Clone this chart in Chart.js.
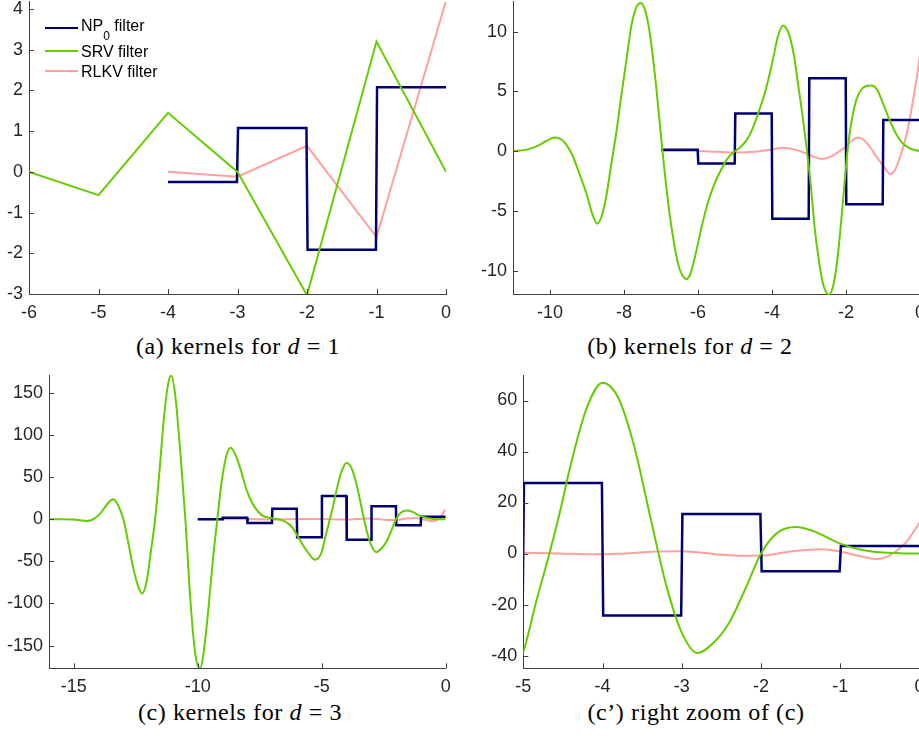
<!DOCTYPE html>
<html lang="en">
  <head>
    <meta charset="UTF-8" />
    <title>Kernels for d = 1, 2, 3</title>
    <script src="https://cdn.jsdelivr.net/npm/chart.js"></script>
    <style>
      body {
        margin: 0;
        width: 919px;
        height: 741px;
        overflow: hidden;
        background: #fff;
        position: relative;
      }

      .panel {
        position: absolute;
      }

      .cap {
        position: absolute;
        width: 400px;
        text-align: center;
        font-family: "Liberation Serif", serif;
        font-size: 24px;
        line-height: 30px;
        letter-spacing: 0.6px;
        color: #000;
        white-space: nowrap;
      }

      .legend {
        position: absolute;
        left: 0;
        top: 0;
        font-family: "Liberation Sans", Arial, sans-serif;
        font-size: 16px;
        color: #000;
      }

      .legend .swatch {
        position: absolute;
        left: 45px;
        width: 33px;
        height: 2px;
      }

      .legend .label {
        position: absolute;
        left: 81px;
        line-height: 20px;
        white-space: nowrap;
      }

      .legend .sub {
        position: relative;
        top: 9px;
        font-size: 12px;
      }
    </style>
  </head>
  <body>
    <div class="panel" id="pa" style="left: 0; top: 0; width: 460px; height: 325px"><canvas id="chartA"></canvas></div>
    <div class="panel" id="pb" style="left: 470px; top: 0; width: 470px; height: 325px"><canvas id="chartB"></canvas></div>
    <div class="panel" id="pc" style="left: 0; top: 365px; width: 460px; height: 330px"><canvas id="chartC"></canvas></div>
    <div class="panel" id="pd" style="left: 470px; top: 365px; width: 470px; height: 330px"><canvas id="chartD"></canvas></div>

    <div class="legend">
      <div class="swatch" style="top: 26.5px; background: #000070"></div>
      <div class="label" style="top: 16px">NP<span class="sub">0</span> filter</div>
      <div class="swatch" style="top: 50px; background: #66cc00"></div>
      <div class="label" style="top: 41.5px">SRV filter</div>
      <div class="swatch" style="top: 69.7px; background: #ffa0a0"></div>
      <div class="label" style="top: 62px">RLKV filter</div>
    </div>

    <div class="cap" style="left: 38px; top: 331px">(a) kernels for <i>d</i> = 1</div>
    <div class="cap" style="left: 490px; top: 331px">(b) kernels for <i>d</i> = 2</div>
    <div class="cap" style="left: 40px; top: 697px">(c) kernels for <i>d</i> = 3</div>
    <div class="cap" style="left: 496px; top: 697px">(c’) right zoom of (c)</div>

    <script>
      // ---- d = 1 ----
      const srvA = [[-6, 0], [-5, -0.57], [-4, 1.45], [-3, 0], [-2, -3.03], [-1, 3.2], [0, 0]]
      const rlkvA = [[-4, 0], [-3, -0.12], [-2, 0.64], [-1, -1.6], [0, 4.2]]
      const np0StartA = -4
      const np0A = [-0.25, 1.08, -1.91, 2.08]
      const xTicksA = [-6, -5, -4, -3, -2, -1, 0]
      const yTicksA = [-3, -2, -1, 0, 1, 2, 3, 4]

      // ---- d = 2 ----
      const srvB = [
        [-11, 0], [-10.6, 0.15], [-10.37, 0.4], [-10.1, 0.85], [-9.87, 1.15], [-9.7, 1.0],
        [-9.56, 0.55], [-9.4, -0.3], [-9.25, -1.5], [-9.02, -3.5], [-8.85, -5.3], [-8.72, -6.05],
        [-8.6, -5.4], [-8.48, -3.8], [-8.35, -1.2], [-8.21, 1.5], [-8.08, 4.5], [-7.94, 7.5],
        [-7.8, 10.5], [-7.67, 12.0], [-7.55, 12.4], [-7.43, 11.8], [-7.31, 10.0], [-7.13, 5.4],
        [-6.96, 0], [-6.77, -5.2], [-6.54, -9.4], [-6.42, -10.4], [-6.31, -10.7], [-6.2, -10.2],
        [-6.05, -8.4], [-5.9, -6.3], [-5.75, -4.5], [-5.59, -3.0], [-5.4, -1.7], [-5.2, -0.6],
        [-5.0, 0], [-4.85, 0.35], [-4.69, 0.9], [-4.55, 1.7], [-4.37, 3.2], [-4.2, 4.8],
        [-4.06, 6.5], [-3.94, 8.2], [-3.84, 9.6], [-3.7, 10.5], [-3.6, 10.2], [-3.52, 9.6],
        [-3.4, 7.9], [-3.3, 5.7], [-3.18, 3.1], [-3.07, 0.4], [-2.95, -2.9], [-2.85, -6.3],
        [-2.73, -9.2], [-2.62, -11.1], [-2.46, -12.0], [-2.35, -11.3], [-2.26, -9.7], [-2.17, -7.2],
        [-2.08, -4.1], [-1.95, 0.3], [-1.85, 2.5], [-1.72, 4.3], [-1.6, 5.1], [-1.45, 5.45],
        [-1.3, 5.5], [-1.15, 5.1], [-1.0, 4.0], [-0.86, 2.9], [-0.72, 1.9], [-0.58, 1.1],
        [-0.45, 0.6], [-0.3, 0.28], [-0.15, 0.1], [0, 0]
      ]
      const rlkvB = [
        [-7, 0], [-6, 0.02], [-5.5, -0.05], [-5, -0.1], [-4.5, -0.05], [-4, 0.15], [-3.7, 0.28],
        [-3.4, 0.15], [-3.1, -0.15], [-2.85, -0.5], [-2.65, -0.65], [-2.45, -0.5], [-2.2, -0.05],
        [-2.0, 0.4], [-1.85, 0.85], [-1.67, 1.15], [-1.5, 0.9], [-1.35, 0.35], [-1.2, -0.35],
        [-1.05, -1.0], [-0.92, -1.55], [-0.8, -1.93], [-0.68, -1.6], [-0.55, -0.6], [-0.42, 0.7],
        [-0.3, 2.3], [-0.18, 4.4], [-0.08, 6.3], [0, 8]
      ]
      const np0StartB = -7
      const np0B = [0.11, -1.03, 3.16, -5.64, 6.09, -4.44, 2.6]
      const xTicksB = [-10, -8, -6, -4, -2, 0]
      const yTicksB = [-10, -5, 0, 5, 10]

      // ---- d = 3 (also used for the right zoom) ----
      const srvC = [
        [-16, 0], [-15.5, 0], [-15.0, -0.3], [-14.75, -1.0], [-14.5, -2.0], [-14.25, -0.5],
        [-14.0, 5], [-13.8, 12], [-13.6, 20], [-13.41, 24], [-13.2, 16], [-13.0, 0],
        [-12.8, -28], [-12.6, -58], [-12.4, -80], [-12.24, -88], [-12.05, -72], [-11.9, -40],
        [-11.72, 0], [-11.55, 55], [-11.35, 125], [-11.2, 160], [-11.07, 171], [-10.9, 145],
        [-10.7, 78], [-10.5, 0], [-10.3, -95], [-10.1, -160], [-9.91, -177], [-9.75, -155],
        [-9.55, -100], [-9.38, -45], [-9.21, 0], [-9.05, 42], [-8.85, 75], [-8.67, 85],
        [-8.5, 78], [-8.3, 62], [-8.03, 35], [-7.76, 17], [-7.42, 5], [-7.02, 1.2],
        [-6.55, -1.6], [-6.21, -8.8], [-5.88, -24.6], [-5.54, -40], [-5.27, -48], [-5.1, -45],
        [-5.0, -38.6], [-4.83, -18], [-4.67, 0], [-4.54, 16], [-4.4, 35], [-4.2, 57],
        [-4.0, 67], [-3.8, 61], [-3.6, 42], [-3.4, 14.7], [-3.2, -12], [-3.0, -31],
        [-2.8, -39], [-2.6, -35], [-2.4, -27], [-2.2, -14], [-2.0, 0], [-1.8, 8],
        [-1.56, 10.4], [-1.34, 8.8], [-1.0, 3.9], [-0.75, 1.6], [-0.5, 0.5], [-0.25, 0.13], [0, 0]
      ]
      const rlkvC = [
        [-10, 0], [-9, 0.1], [-8, 0.3], [-7, -0.3], [-6, 0.3], [-5, 0.26], [-4.54, 0],
        [-4.12, -0.3], [-3.82, -0.1], [-3.32, 0.8], [-3.06, 0.9], [-2.77, 0.4], [-2.48, -0.5],
        [-2.23, -0.9], [-2.0, -0.8], [-1.6, 0.9], [-1.24, 1.7], [-1.0, 0.8], [-0.76, -1.0],
        [-0.55, -2.1], [-0.42, -1.4], [-0.3, 0.8], [-0.16, 4.8], [0, 12]
      ]
      const np0StartC = -10
      const np0C = [0, 1.9, -4.4, 12.6, -21.4, 27.7, -24.3, 15.5, -6.9, 3.0]
      const xTicksC = [-15, -10, -5, 0]
      const yTicksC = [-150, -100, -50, 0, 50, 100, 150]
      const xTicksD = [-5, -4, -3, -2, -1, 0]
      const yTicksD = [-40, -20, 0, 20, 40, 60]

      const navy = "#000070"
      const green = "#66cc00"
      const pink = "#ffa0a0"
      const axisColor = "#262626"
      const lineColor = "#404040"
      const tickFont = { family: "'Liberation Sans', Arial, sans-serif", size: 18 }

      const toPoints = (pairs) => pairs.map(([x, y]) => ({ x, y }))

      // piecewise-constant kernel: one unit-wide step per level, with
      // a very short ramp between neighbouring levels
      function stepPoints(start, levels) {
        const ramp = 0.008
        const pts = []
        levels.forEach((v, i) => {
          const x0 = start + i
          const x1 = x0 + 1
          pts.push({ x: i === 0 ? x0 : x0 + ramp, y: v })
          pts.push({ x: i === levels.length - 1 ? x1 : x1 - ramp, y: v })
        })
        return pts
      }

      // MATLAB-style tick marks pointing into the plot
      const inwardTicks = {
        id: "inwardTicks",
        afterDatasetsDraw(chart) {
          const { ctx, chartArea, scales } = chart
          ctx.save()
          ctx.strokeStyle = lineColor
          ctx.lineWidth = 1
          ctx.beginPath()
          scales.x.ticks.forEach((t) => {
            const px = Math.round(scales.x.getPixelForValue(t.value)) + 0.5
            ctx.moveTo(px, chartArea.bottom)
            ctx.lineTo(px, chartArea.bottom - 5)
          })
          scales.y.ticks.forEach((t) => {
            const py = Math.round(scales.y.getPixelForValue(t.value)) + 0.5
            ctx.moveTo(chartArea.left, py)
            ctx.lineTo(chartArea.left + 5, py)
          })
          ctx.stroke()
          ctx.restore()
        },
      }

      function axis(min, max, tickValues, size, vertical) {
        return {
          type: "linear",
          min: min,
          max: max,
          grid: { display: false, drawTicks: false },
          border: { display: true, color: lineColor, width: 1 },
          ticks: {
            color: axisColor,
            font: tickFont,
            padding: vertical ? 6 : 8,
            maxRotation: 0,
            autoSkip: false,
            callback: (v) => String(v),
          },
          afterBuildTicks: (s) => {
            s.ticks = tickValues.map((v) => ({ value: v }))
          },
          afterFit: (s) => {
            if (vertical) s.width = size
            else s.height = size
            s.paddingTop = 0
            s.paddingBottom = 0
            s.paddingLeft = 0
            s.paddingRight = 0
          },
        }
      }

      function series(data, color, width, smooth, order) {
        return {
          data: data,
          borderColor: color,
          backgroundColor: color,
          borderWidth: width,
          showLine: true,
          pointRadius: 0,
          fill: false,
          tension: 0,
          cubicInterpolationMode: smooth ? "monotone" : "default",
          order: order,
        }
      }

      function makeChart(id, cfg) {
        const ctx = document.getElementById(id).getContext("2d")
        return new Chart(ctx, {
          type: "scatter",
          data: {
            datasets: [
              series(cfg.np0, navy, 2.5, false, 1),
              series(cfg.srv, green, 2, cfg.smooth, 0),
              series(cfg.rlkv, pink, 2, cfg.smooth, 2),
            ],
          },
          options: {
            responsive: true,
            maintainAspectRatio: false,
            animation: false,
            devicePixelRatio: 1,
            layout: { padding: cfg.padding },
            plugins: { legend: { display: false }, tooltip: { enabled: false } },
            scales: {
              x: axis(cfg.x[0], cfg.x[1], cfg.xTicks, cfg.xAxisH, false),
              y: axis(cfg.y[0], cfg.y[1], cfg.yTicks, cfg.yAxisW, true),
            },
          },
          plugins: [inwardTicks],
        })
      }

      makeChart("chartA", {
        np0: stepPoints(np0StartA, np0A),
        srv: toPoints(srvA),
        rlkv: toPoints(rlkvA),
        smooth: false,
        x: [-6, 0],
        y: [-3, 4.18],
        xTicks: xTicksA,
        yTicks: yTicksA,
        yAxisW: 29,
        xAxisH: 31,
        padding: { left: 0, top: 1.7, right: 14, bottom: 0 },
      })

      makeChart("chartB", {
        np0: stepPoints(np0StartB, np0B),
        srv: toPoints(srvB),
        rlkv: toPoints(rlkvB),
        smooth: true,
        x: [-11, 0],
        y: [-12, 12.5],
        xTicks: xTicksB,
        yTicks: yTicksB,
        yAxisW: 43,
        xAxisH: 30.3,
        padding: { left: 0, top: 1.7, right: 20, bottom: 0 },
      })

      makeChart("chartC", {
        np0: stepPoints(np0StartC, np0C),
        srv: toPoints(srvC),
        rlkv: toPoints(rlkvC),
        smooth: true,
        x: [-16, 0],
        y: [-177, 171.5],
        xTicks: xTicksC,
        yTicks: yTicksC,
        yAxisW: 49,
        xAxisH: 26.7,
        padding: { left: 0, top: 10, right: 14.3, bottom: 0 },
      })

      makeChart("chartD", {
        np0: stepPoints(np0StartC, np0C),
        srv: toPoints(srvC),
        rlkv: toPoints(rlkvC),
        smooth: true,
        x: [-5, 0],
        y: [-45, 70],
        xTicks: xTicksD,
        yTicks: yTicksD,
        yAxisW: 53.3,
        xAxisH: 26.7,
        padding: { left: 0, top: 10, right: 20.5, bottom: 0 },
      })
    </script>
  </body>
</html>
